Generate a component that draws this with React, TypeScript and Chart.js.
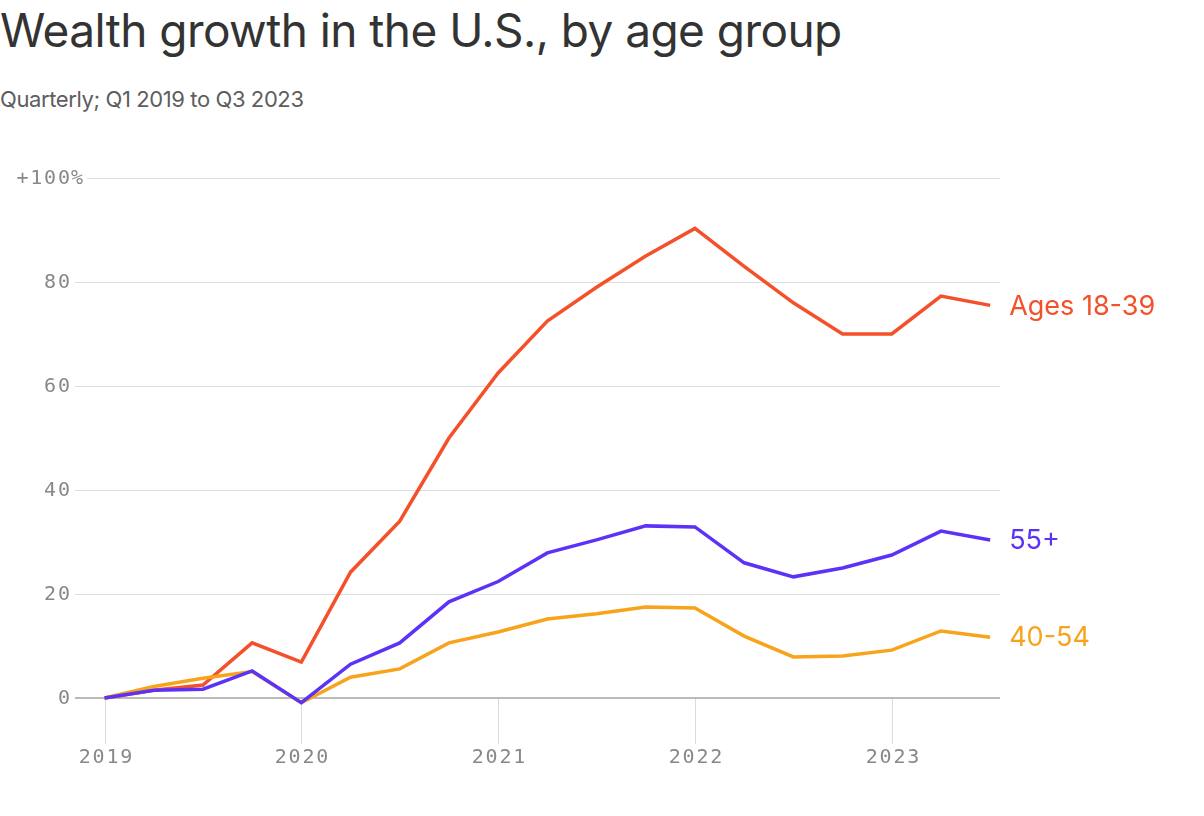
import React, { useEffect, useRef } from "react";
import { Chart, registerables } from "chart.js";

Chart.register(...registerables);

const quarters = [
  "Q1 2019", "Q2 2019", "Q3 2019", "Q4 2019",
  "Q1 2020", "Q2 2020", "Q3 2020", "Q4 2020",
  "Q1 2021", "Q2 2021", "Q3 2021", "Q4 2021",
  "Q1 2022", "Q2 2022", "Q3 2022", "Q4 2022",
  "Q1 2023", "Q2 2023", "Q3 2023",
];
const ages18to39 = [0, 1.5, 2.5, 10.6, 6.9, 24.2, 34, 50, 62.5, 72.5, 79, 85, 90.3, 83, 76, 70, 70, 77.3, 75.5];
const ages40to54 = [0, 2.2, 3.8, 5.1, -0.9, 4, 5.6, 10.6, 12.7, 15.2, 16.2, 17.5, 17.3, 11.9, 7.9, 8.1, 9.2, 12.9, 11.7];
const ages55plus = [0, 1.5, 1.7, 5.2, -0.9, 6.5, 10.6, 18.5, 22.4, 27.9, 30.4, 33.1, 32.9, 26, 23.3, 25, 27.5, 32.1, 30.4];
const yTicks = [0, 20, 40, 60, 80, 100];
const yearLabels = ["2019", "2020", "2021", "2022", "2023"];
const seriesNames = ["55+", "40-54", "Ages 18-39"];
const seriesColors = ["#5c33f6", "#f7a31c", "#f4502a"];

const MONO = '20px "DejaVu Sans Mono"';
const SPACING = 1.8;

const axisPlugin = {
  id: "axiosAxes",
  beforeDatasetsDraw(chart: any) {
    const { ctx, chartArea, scales } = chart;
    const xs = scales.x;
    const ys = scales.y;
    const zeroY = ys.getPixelForValue(0);
    ctx.save();
    ctx.font = MONO;
    (ctx as any).letterSpacing = SPACING + "px";
    ctx.fillStyle = "#888888";
    ctx.textBaseline = "middle";
    const labelRight = chartArea.left - 5;
    const topTick = yTicks[yTicks.length - 1];
    yTicks.forEach((v) => {
      const py = Math.round(ys.getPixelForValue(v)) + 0.5;
      const main = v === topTick ? "+" + v : String(v);
      const w = ctx.measureText(main).width - SPACING;
      ctx.fillText(main, labelRight - w, py);
      let start = chartArea.left;
      if (v === topTick) {
        ctx.fillText("%", labelRight + 1, py);
        const pw = ctx.measureText("%").width - SPACING;
        start = labelRight + 1 + pw + 4;
      }
      if (v !== 0) {
        ctx.strokeStyle = "#dedede";
        ctx.lineWidth = 1;
        ctx.beginPath();
        ctx.moveTo(start, py);
        ctx.lineTo(chartArea.right, py);
        ctx.stroke();
      }
    });
    yearLabels.forEach((yr) => {
      const idx = quarters.indexOf("Q1 " + yr);
      const px = Math.round(xs.getPixelForValue(idx)) + 0.5;
      ctx.strokeStyle = "#dcdcdc";
      ctx.lineWidth = 1;
      ctx.beginPath();
      ctx.moveTo(px, zeroY);
      ctx.lineTo(px, zeroY + 46);
      ctx.stroke();
      const w = ctx.measureText(yr).width - SPACING;
      ctx.fillText(yr, px - w / 2, zeroY + 60);
    });
    ctx.strokeStyle = "#a3a3a3";
    ctx.lineWidth = 1.5;
    ctx.beginPath();
    ctx.moveTo(chartArea.left, zeroY);
    ctx.lineTo(chartArea.right, zeroY);
    ctx.stroke();
    ctx.restore();
  },
  afterDatasetsDraw(chart: any) {
    const { ctx } = chart;
    ctx.save();
    ctx.font = '27px Inter';
    ctx.textBaseline = "middle";
    ctx.textAlign = "left";
    chart.data.datasets.forEach((ds: any, i: number) => {
      const meta = chart.getDatasetMeta(i);
      const pt = meta.data[meta.data.length - 1];
      ctx.fillStyle = ds.borderColor;
      ctx.fillText(ds.label, pt.x + 19, pt.y + 1);
    });
    ctx.restore();
  },
};

export default function App() {
  const canvasRef = useRef<HTMLCanvasElement | null>(null);

  useEffect(() => {
    document.body.style.margin = "0";
    const seriesValues = [ages55plus, ages40to54, ages18to39];
    const chart = new Chart(canvasRef.current as HTMLCanvasElement, {
      type: "line",
      data: {
        datasets: seriesValues.map((vals, i) => ({
          label: seriesNames[i],
          data: vals.map((v, j) => ({ x: j, y: v })),
          borderColor: seriesColors[i],
          backgroundColor: seriesColors[i],
          borderWidth: 3.5,
          pointRadius: 0,
          pointHoverRadius: 0,
          tension: 0,
          borderJoinStyle: "miter" as const,
          fill: false,
        })),
      },
      options: {
        animation: false,
        responsive: true,
        maintainAspectRatio: false,
        layout: { padding: { left: 75, right: 204, top: 178, bottom: 66 } },
        plugins: {
          legend: { display: false },
          tooltip: { enabled: false },
          title: { display: false },
        },
        events: [],
        scales: {
          x: { type: "linear", min: -0.6, max: 18.2, display: false },
          y: { type: "linear", min: -10, max: 100, display: false },
        },
      },
      plugins: [axisPlugin],
    });
    return () => chart.destroy();
  }, []);

  return (
    <div style={{ position: "relative", width: 1204, height: 816, background: "#fff", overflow: "hidden" }}>
      <div
        style={{
          position: "absolute",
          left: 0,
          top: 7,
          fontFamily: "Inter, sans-serif",
          fontSize: 46,
          lineHeight: "46px",
          color: "#333333",
          letterSpacing: "-0.55px",
          whiteSpace: "nowrap",
        }}
      >
        Wealth growth in the U.S., by age group
      </div>
      <div
        style={{
          position: "absolute",
          left: 0,
          top: 88,
          fontFamily: "Inter, sans-serif",
          fontSize: 22,
          lineHeight: "22px",
          color: "#5e5e5e",
          letterSpacing: "-0.4px",
          whiteSpace: "nowrap",
        }}
      >
        Quarterly; Q1 2019 to Q3 2023
      </div>
      <div style={{ position: "absolute", left: 0, top: 0, width: 1204, height: 816 }}>
        <canvas ref={canvasRef} />
      </div>
    </div>
  );
}
